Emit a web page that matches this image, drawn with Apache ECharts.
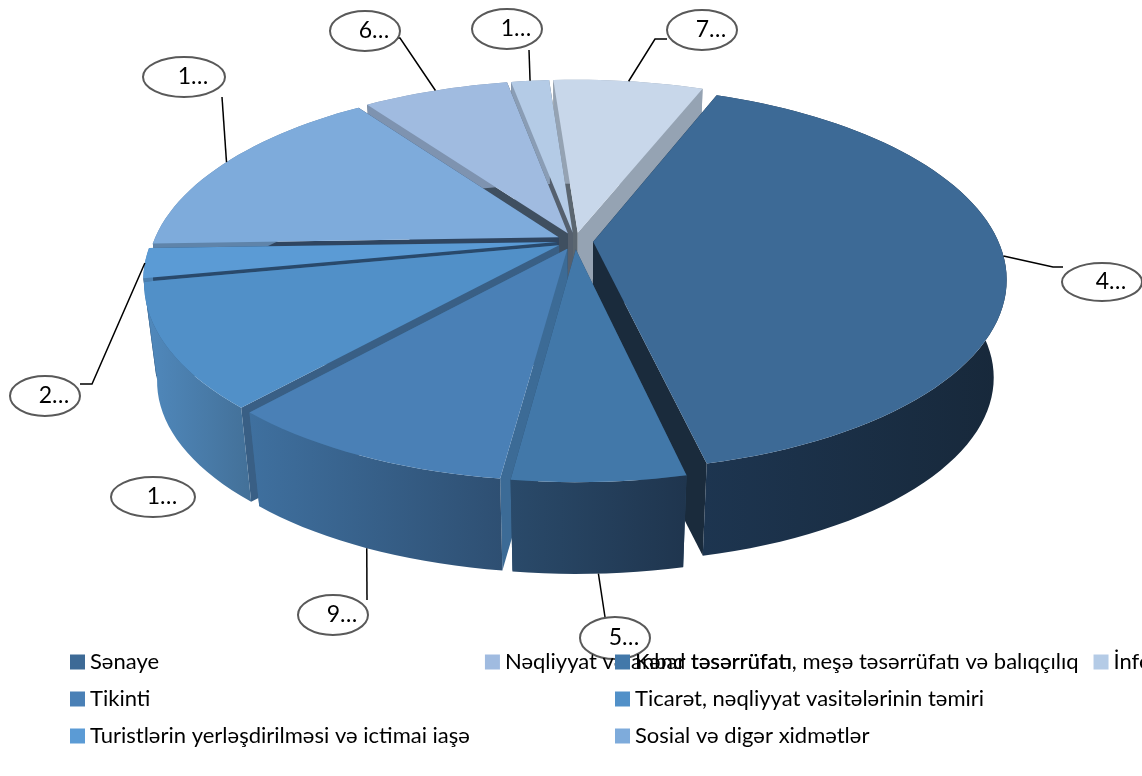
<!DOCTYPE html>
<html><head><meta charset="utf-8">
<style>html,body{margin:0;padding:0;background:#fff}#c{width:1142px;height:776px}</style>
<script src="https://cdn.jsdelivr.net/npm/echarts@6/dist/echarts.min.js"></script>
</head><body><div id="c"></div>
<script>
// ---- data ----
const categories = ['Sənaye','Kənd təsərrüfatı, meşə təsərrüfatı və balıqçılıq','Tikinti','Ticarət, nəqliyyat vasitələrinin təmiri','Turistlərin yerləşdirilməsi və ictimai iaşə','Sosial və digər xidmətlər','Nəqliyyat və anbar təsərrüfatı','İnformasiya və rabitə','Digər'];
const values = [40.5,5.6,9.5,10.4,2.5,15.7,6.9,1.8,7.1];
const calloutLabels = ['4…','5…','9…','1…','2…','1…','6…','1…','7…'];
const legendLeft = [categories[0],categories[2],categories[4],categories[6]];
const legendRight = [categories[1],categories[3],categories[5],categories[7]];

// ---- styles ----
const topColors = ['#3d6a96','#4278a9','#4a80b6','#5190c8','#5b9bd5','#7eabdb','#a0bbe0','#b4cbe6','#c8d7ea'];
const wallLeft  = ['#1d3550','#2a4a6a','#3f709f','#5089bd','#4a7fb0','#5f84aa','#7e93b0','#8a9db5','#95a3b3'];
const wallRight = ['#17283a','#1f354e','#2e4f72','#437098','#4a7fb0','#5f84aa','#7e93b0','#8a9db5','#95a3b3'];
const startWall = ['#1a2b3c','#2a4a68','#3c6b96','#395f85','#29496b','#2f4560','#3f4f60','#55606e','#5b6670'];
const endWall   = ['#1a2b3c','#2a4a68','#3c6b96','#395f85','#29496b','#2f4560','#3f4f60','#55606e','#95a3b3'];

// ---- projection of the tilted pie ----
const START = 21.5, EXPLODE = 0.045, CX = 575, CY = 241, RX = 405, RY = 185, K = 0.19;
const SHRINK = 0.97, DEPTH = 99, BACK = 10;
const total = values.reduce((a,b)=>a+b,0);
const rad = d => d*Math.PI/180;
const slices = [];
{ let a = START;
  values.forEach(v => { const s = v/total*360; slices.push({a0:a,a1:a+s,mid:a+s/2}); a += s; }); }
function proj(u,v,bottom){
  const s = 1/(1-K*v); let x = CX+RX*u*s, y = CY+RY*v*s;
  if (bottom){ x = CX+(x-CX)*SHRINK; y = CY+(y-CY)*SHRINK+DEPTH; }
  return [x,y];
}
function rimPoint(sl,deg,bottom,r){
  const ex = EXPLODE*Math.sin(rad(sl.mid)), ey = -EXPLODE*Math.cos(rad(sl.mid));
  const rr = r===undefined?1:r;
  return proj(ex+rr*Math.sin(rad(deg)), ey-rr*Math.cos(rad(deg)), bottom);
}
function arc(sl,bottom){
  const n = Math.max(2,Math.ceil((sl.a1-sl.a0)/2)), p = [];
  for(let i=0;i<=n;i++) p.push(rimPoint(sl,sl.a0+(sl.a1-sl.a0)*i/n,bottom));
  return p;
}
function sliceItem(i){
  const sl = slices[i];
  const apexT = rimPoint(sl,sl.a0,false,0), apexB = rimPoint(sl,sl.a0,true,0);
  const topArc = arc(sl,false), botArc = arc(sl,true);
  const wall = (deg,c) => ({type:'polygon',shape:{points:[apexT,rimPoint(sl,deg,false),rimPoint(sl,deg,true),apexB]},style:{fill:c}});
  return {type:'group',children:[
    wall(sl.a0,startWall[i]),
    wall(sl.a1,endWall[i]),
    {type:'polygon',shape:{points:topArc.concat(botArc.slice().reverse())},
      style:{fill:new echarts.graphic.LinearGradient(0,0,1,0,[{offset:0,color:wallLeft[i]},{offset:1,color:wallRight[i]}])}},
    {type:'polygon',shape:{points:[apexT].concat(topArc)},style:{fill:topColors[i]}}
  ]};
}

// ---- callouts (bubble box and leader elbow are layout, anchors come from the slices) ----
const bubbles = [[1102,282,40,19],[615,638,35,21],[333,615,35,20],[153,497,42,20],[45,396,35,20],[184,77,41,20],[365,31,35,20],[507,29,35,20],[702,30,35,20]];
const elbows  = [[1053,267,1063,267],[605,617],[367,600],null,[92,384,80,384],[222,97],[400,38,392,38],[529,50],[655,39,667,39]];
const anchorOnBottom = [false,true,true,false,false,false,false,false,false];
function calloutItem(i){
  const b = bubbles[i], ch = [];
  if (elbows[i]){
    const pts = [rimPoint(slices[i],slices[i].mid,anchorOnBottom[i])], e = elbows[i];
    for(let j=0;j<e.length;j+=2) pts.push([e[j],e[j+1]]);
    ch.push({type:'polyline',shape:{points:pts},style:{stroke:'#000',lineWidth:1.5,fill:'none'}});
  }
  ch.push({type:'ellipse',shape:{cx:b[0],cy:b[1],rx:b[2],ry:b[3]},style:{fill:'#fff',stroke:'#595959',lineWidth:2}});
  ch.push({type:'text',style:{text:calloutLabels[i],x:b[0]+9,y:b[1],align:'center',verticalAlign:'middle',fill:'#000',font:'23px Lato'}});
  return {type:'group',children:ch};
}

// ---- paint order: far slices first ----
const order = slices.map((s,i)=>[Math.cos(rad(s.mid-BACK)),i]).sort((a,b)=>b[0]-a[0]).map(x=>x[1]);
const series = categories.map((name,i)=>({
  type:'custom',name,coordinateSystem:'none',z:2+order.indexOf(i),silent:true,
  itemStyle:{color:topColors[i]},
  data:[{name,value:values[i]}],
  renderItem:()=>sliceItem(i)
}));
series.push({type:'custom',name:'callouts',coordinateSystem:'none',z:20,silent:true,
  data:calloutLabels.map((l,i)=>({name:l,value:i})),
  renderItem:(p)=>calloutItem(p.dataIndex)});

const legendBase = {orient:'vertical',selectedMode:false,icon:'rect',itemWidth:15,itemHeight:15,itemGap:15,padding:0,z:30,
  textStyle:{fontFamily:'Lato',fontSize:22,color:'#000',lineHeight:19,padding:[0,0,0,0]}};
const chart = echarts.init(document.getElementById('c'),null,{renderer:'canvas'});
chart.setOption({animation:false,backgroundColor:'#fff',tooltip:{show:false},
  legend:[Object.assign({},legendBase,{data:legendLeft,left:70,top:651}),
          Object.assign({},legendBase,{data:legendRight,left:615,top:651})],
  series});
</script></body></html>
